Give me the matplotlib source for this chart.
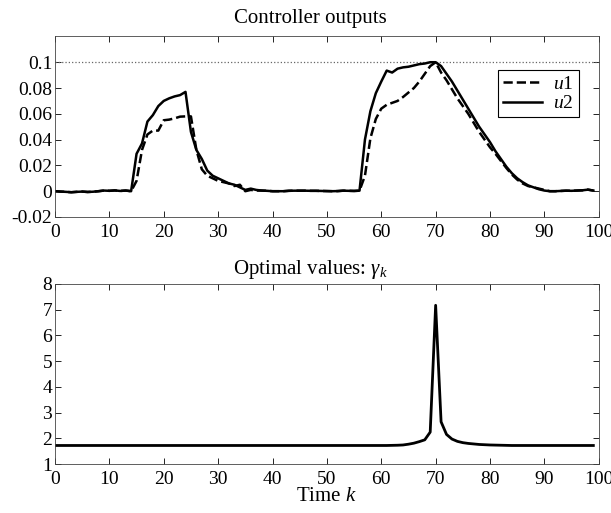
import matplotlib
matplotlib.use("Agg")
import matplotlib.pyplot as plt
import numpy as np

plt.rcParams['font.family'] = ['Liberation Serif', 'DejaVu Serif']
plt.rcParams['mathtext.fontset'] = 'custom'
plt.rcParams['mathtext.rm'] = 'Liberation Serif'
plt.rcParams['mathtext.it'] = 'Liberation Serif:italic'
plt.rcParams['font.size'] = 14

k = np.arange(100)

u1 = [0.000, -0.0003, -0.0005, -0.0008, -0.0005, -0.0003, -0.0006, -0.0004, 0.0000, 0.0005,
      0.0003, 0.0006, 0.0002, 0.0005, 0.0000, 0.0080, 0.0320, 0.0440, 0.0470, 0.0470,
      0.0550, 0.0555, 0.0565, 0.0578, 0.0580, 0.0580, 0.0320, 0.0170, 0.0120, 0.0100,
      0.0080, 0.0070, 0.0060, 0.0040, 0.0050, 0.0000, 0.0010, 0.0005, 0.0005, 0.0003,
      0.0000, 0.0000, 0.0000, 0.0003, 0.0004, 0.0004, 0.0004, 0.0003, 0.0003, 0.0002,
      0.0001, 0.0000, 0.0001, 0.0004, 0.0003, 0.0002, 0.0004, 0.0120, 0.0410, 0.0560,
      0.0640, 0.0670, 0.0685, 0.0700, 0.0730, 0.0765, 0.0800, 0.0850, 0.0910, 0.0970,
      0.1000, 0.0920, 0.0860, 0.0790, 0.0720, 0.0660, 0.0600, 0.0530, 0.0460, 0.0400,
      0.0340, 0.0290, 0.0235, 0.0180, 0.0130, 0.0090, 0.0060, 0.0040, 0.0030, 0.0020,
      0.0010, 0.0000, 0.0000, 0.0002, 0.0004, 0.0003, 0.0005, 0.0007, 0.0012, 0.0005]

u2 = [0.000, -0.0003, -0.0005, -0.0008, -0.0005, -0.0003, -0.0006, -0.0004, 0.0000, 0.0005,
      0.0003, 0.0006, 0.0002, 0.0005, 0.0000, 0.0290, 0.0370, 0.0540, 0.0590, 0.0660,
      0.0700, 0.0720, 0.0735, 0.0745, 0.0770, 0.0460, 0.0320, 0.0250, 0.0160, 0.0120,
      0.0100, 0.0080, 0.0060, 0.0050, 0.0030, 0.0010, 0.0020, 0.0010, 0.0005, 0.0003,
      0.0000, 0.0000, 0.0000, 0.0003, 0.0004, 0.0004, 0.0004, 0.0003, 0.0003, 0.0002,
      0.0001, 0.0000, 0.0001, 0.0004, 0.0003, 0.0002, 0.0004, 0.0400, 0.0620, 0.0760,
      0.0850, 0.0935, 0.0920, 0.0950, 0.0960, 0.0965, 0.0975, 0.0985, 0.0990, 0.1000,
      0.1000, 0.0970, 0.0910, 0.0850, 0.0780, 0.0710, 0.0640, 0.0570, 0.0500, 0.0440,
      0.0380, 0.0310, 0.0250, 0.0190, 0.0140, 0.0100, 0.0070, 0.0045, 0.0030, 0.0015,
      0.0005, 0.0000, 0.0000, 0.0002, 0.0004, 0.0003, 0.0005, 0.0007, 0.0012, 0.0005]

gamma = [1.72] * 62 + [1.725, 1.73, 1.74, 1.77, 1.81, 1.87, 1.94, 2.24,
                       7.17, 2.64, 2.15, 1.97, 1.88, 1.83, 1.80, 1.78, 1.76, 1.75,
                       1.74, 1.735, 1.73, 1.725] + [1.72] * 16

fig = plt.figure(figsize=(6.11, 5.13), dpi=100)
ax1 = fig.add_axes([0.090, 0.577, 0.890, 0.352])
ax2 = fig.add_axes([0.090, 0.0955, 0.890, 0.351])

ax1.axhline(0.1, color='#666666', linestyle=':', linewidth=0.9)
ax1.plot(k, u1, 'k--', linewidth=1.8, label='$u1$')
ax1.plot(k, u2, 'k-', linewidth=1.8, label='$u2$')
ax1.set_xlim(0, 100)
ax1.set_ylim(-0.02, 0.12)
ax1.set_yticks([-0.02, 0, 0.02, 0.04, 0.06, 0.08, 0.1])
ax1.set_yticklabels(['-0.02', '0', '0.02', '0.04', '0.06', '0.08', '0.1'])
ax1.set_xticks(np.arange(0, 101, 10))
ax1.set_title('Controller outputs', fontsize=15, pad=10, x=0.47)
leg = ax1.legend(loc='upper right', bbox_to_anchor=(0.963, 0.812), fancybox=False,
                 edgecolor='black', framealpha=1, borderpad=0.25, handlelength=2.0,
                 labelspacing=0.1, handletextpad=0.6, borderaxespad=0)
leg.get_frame().set_linewidth(0.8)

ax2.plot(k, gamma, 'k-', linewidth=2.0)
ax2.set_xlim(0, 100)
ax2.set_ylim(1, 8)
ax2.set_xticks(np.arange(0, 101, 10))
ax2.set_yticks(np.arange(1, 9))
ax2.set_title(r'Optimal values: $\gamma_k$', fontsize=15, pad=7, x=0.47)
ax2.set_xlabel('Time $k$', fontsize=15, labelpad=-1)

for ax in (ax1, ax2):
    ax.tick_params(direction='in', top=True, right=True, length=4, width=0.6,
                   labelsize=14, colors='black')
    ax.tick_params(axis='x', pad=5)
    ax.tick_params(axis='y', pad=2)
    for s in ax.spines.values():
        s.set_linewidth(0.6)
        s.set_color('#444444')

fig.savefig('out.png', dpi=100)
